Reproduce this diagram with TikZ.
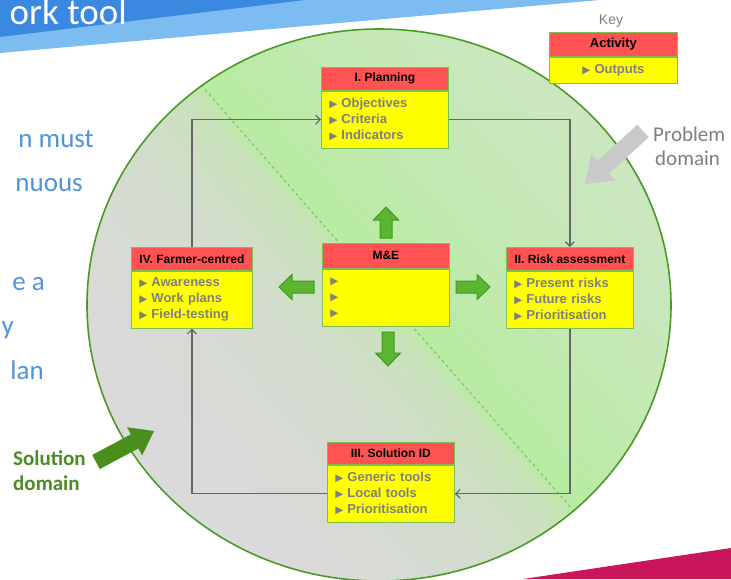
\documentclass[tikz,border=0pt]{standalone}
\usepackage{fontspec}
\setmainfont{Liberation Sans}
\newfontfamily\slidefont{Carlito}
\newfontfamily\symfont{DejaVu Sans}
\usetikzlibrary{calc,arrows.meta}

\definecolor{darkblue}{HTML}{3B88E0}
\definecolor{lightblue}{HTML}{7DBCF0}
\definecolor{textblue}{HTML}{4F93DB}
\definecolor{magentared}{HTML}{C9165B}
\definecolor{hdrred}{HTML}{FF5252}
\definecolor{bodyyel}{HTML}{FFFF00}
\definecolor{boxedge}{HTML}{7DBE55}
\definecolor{itemgrey}{HTML}{7F7F7F}
\definecolor{linegrey}{HTML}{666666}
\definecolor{circedge}{HTML}{4C9A26}
\definecolor{dashgreen}{HTML}{6CCB4A}
\definecolor{arrgreen}{HTML}{5CB531}
\definecolor{arrdark}{HTML}{3F9A22}
\definecolor{solgreen}{HTML}{4A8F1E}
\definecolor{soltext}{HTML}{4C8B26}
\definecolor{probgrey}{HTML}{C9C9C9}
\definecolor{probtext}{HTML}{7F7F7F}
\definecolor{gA}{HTML}{DADADA}
\definecolor{gB}{HTML}{D4DBCF}
\definecolor{gC}{HTML}{C9E2BB}
\definecolor{gD}{HTML}{B8EBA2}
\definecolor{gE}{HTML}{C3E9B2}
\definecolor{gF}{HTML}{CDE6C2}

\pgfdeclarehorizontalshading{domainshade}{100bp}{color(0bp)=(gA); color(35bp)=(gA); color(44bp)=(gB); color(49.5bp)=(gC); color(51.2bp)=(gD); color(58bp)=(gE); color(68.75bp)=(gF); color(100bp)=(gF)}

\newcommand\tri{{\symfont\fontsize{10.5}{10}\selectfont ▶}\hspace{4pt}}

% #1 style, #2 tail, #3 tip, #4 shaft half width, #5 head half width, #6 head length
\newcommand\blockarr[6]{%
  \coordinate (ba-h) at ($(#3)!#6!(#2)$);
  \path[#1] ($(#2)!#4!90:(#3)$) -- ($(ba-h)!#4!90:(#3)$) -- ($(ba-h)!#5!90:(#3)$) -- (#3)
    -- ($(ba-h)!#5!-90:(#3)$) -- ($(ba-h)!#4!-90:(#3)$) -- ($(#2)!#4!-90:(#3)$) -- cycle;
}

\begin{document}
\begin{tikzpicture}[x=1pt,y=-1pt,
  hdr/.style={draw=boxedge, line width=0.8, fill=hdrred, minimum width=127, minimum height=23,
    inner sep=0, anchor=north west, font=\bfseries\fontsize{12}{14}\selectfont, text=black},
  body/.style={draw=boxedge, line width=0.8, fill=bodyyel, text width=111, inner xsep=8,
    inner ysep=0, minimum height=57, align=left, anchor=north,
    font=\bfseries\fontsize{13}{16}\selectfont, text=itemgrey},
  conn/.style={draw=linegrey, line width=1.2, -{Straight Barb[length=4.5pt,width=9pt]}},
  mearrow/.style={fill=arrgreen, draw=arrdark, line width=1},
  slidetext/.style={inner sep=0, text=textblue, anchor=base east, font=\slidefont\fontsize{27}{27}\selectfont},
]
\useasboundingbox (0,0) rectangle (731,579);
\fill[white] (0,0) rectangle (731,579);

% banner
\fill[lightblue] (0,0) -- (600,0) -- (0,53) -- cycle;
\fill[darkblue] (0,0) -- (305,0) -- (0,37) -- cycle;
\node[anchor=base east, text=white, inner sep=0, font=\slidefont\fontsize{37}{37}\selectfont] (title) at (127,24) {ork tool};

% left slide text
\node[slidetext] (l1) at (94,147) {n must};
\node[slidetext] (l2) at (83,191) {nuous};
\node[slidetext] (l3) at (45,290) {e a};
\node[slidetext] (l4) at (14,334) {y};
\node[slidetext] (l5) at (44,379) {lan};

% magenta corner
\fill[magentared] (523,579) -- (731,548) -- (731,579) -- cycle;

% domain ellipse
\coordinate (ctr) at (379,305);
\begin{scope}
  \clip (ctr) ellipse [x radius=292, y radius=276];
  \begin{scope}[transform canvas={rotate around={41:(ctr)}}]
    \shade[shading=domainshade] ($(ctr)+(-400,-400)$) rectangle ($(ctr)+(400,400)$);
  \end{scope}
\end{scope}
\draw[dashgreen, line width=1, dash pattern=on 3pt off 3pt] (201,85) -- (573,510);
\draw[circedge, line width=1.6] (ctr) ellipse [x radius=292, y radius=276];

% key
\node[text=probtext, font=\fontsize{14}{16}\selectfont, inner sep=0] (keylbl) at (611,21) {Key};
\node[hdr, minimum width=128, minimum height=24, font=\bfseries\fontsize{13}{15}\selectfont] (key-h) at (549,32) {Activity};
\node[body, minimum height=26, text width=112, align=center] (key) at (key-h.south) {\tri Outputs};

% activity boxes
\node[hdr] (plan-h) at (321,67) {I. Planning};
\node[body] (plan) at (plan-h.south) {\tri Objectives\\\tri Criteria\\\tri Indicators};

\node[hdr, minimum width=121] (farmer-h) at (131,247) {IV. Farmer-centred};
\node[body, text width=105] (farmer) at (farmer-h.south) {\tri Awareness\\\tri Work plans\\\tri Field-testing};

\node[hdr, minimum height=25] (me-h) at (322,243) {M\&E};
\node[body] (me) at (me-h.south) {\tri\\\tri\\\tri};

\node[hdr] (risk-h) at (506,247) {II. Risk assessment};
\node[body] (risk) at (risk-h.south) {\tri Present risks\\\tri Future risks\\\tri Prioritisation};

\node[hdr, minimum height=22] (sol-h) at (327,442) {III. Solution ID};
\node[body] (sol) at (sol-h.south) {\tri Generic tools\\\tri Local tools\\\tri Prioritisation};

% connectors
\draw[conn] (farmer-h.north) |- (plan.west);
\draw[conn] (plan.east) -| (risk-h.north);
\draw[conn] (risk.south) |- (sol.east);
\draw[conn] (sol.west) -| (farmer.south);

% M&E block arrows
\coordinate (ar-t) at (456,287); \coordinate (ar-p) at (490,287);
\coordinate (al-t) at (314,287); \coordinate (al-p) at (279,287);
\coordinate (au-t) at (386,238); \coordinate (au-p) at (386,207);
\coordinate (ad-t) at (388,332); \coordinate (ad-p) at (388,366);
\blockarr{mearrow}{ar-t}{ar-p}{6pt}{12.5pt}{13pt}
\blockarr{mearrow}{al-t}{al-p}{6pt}{12.5pt}{13pt}
\blockarr{mearrow}{au-t}{au-p}{6pt}{12.5pt}{13pt}
\blockarr{mearrow}{ad-t}{ad-p}{6pt}{12.5pt}{13pt}

% problem domain
\coordinate (pa-t) at (643,131); \coordinate (pa-p) at (585,184);
\blockarr{fill=probgrey}{pa-t}{pa-p}{8.5pt}{18pt}{25pt}
\node[inner sep=0, anchor=base west, text=probtext, font=\slidefont\fontsize{21}{24}\selectfont] (prob1) at (653,141) {Problem};
\node[inner sep=0, anchor=base west, text=probtext, font=\slidefont\fontsize{21}{24}\selectfont] (prob2) at (655,165) {domain};

% solution domain
\coordinate (sa-t) at (96,462); \coordinate (sa-p) at (154,431);
\blockarr{fill=solgreen}{sa-t}{sa-p}{8pt}{16pt}{22pt}
\node[inner sep=0, anchor=base west, text=soltext, font=\slidefont\bfseries\fontsize{21}{24}\selectfont] (sol1) at (13,465) {Solution};
\node[inner sep=0, anchor=base west, text=soltext, font=\slidefont\bfseries\fontsize{21}{24}\selectfont] (sol2) at (13,490) {domain};
\end{tikzpicture}
\end{document}
